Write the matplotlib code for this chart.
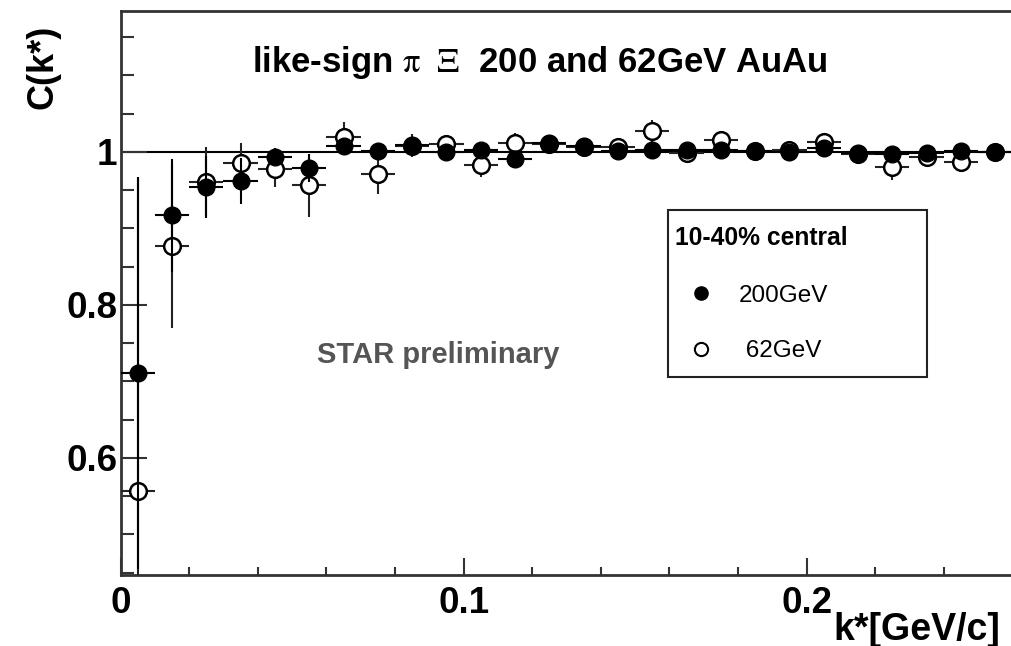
import numpy as np
import matplotlib
matplotlib.use("Agg")
import matplotlib.pyplot as plt
from matplotlib.patches import Rectangle
from matplotlib.lines import Line2D
from matplotlib.ticker import MultipleLocator, FixedLocator, FixedFormatter

plt.rcParams['font.family'] = ['Liberation Sans', 'DejaVu Sans']
plt.rcParams['mathtext.fontset'] = 'stix'

# k* bin centres and half bin width
kstar = np.arange(0.005, 0.26, 0.01)
half_bin = 0.005

# 200 GeV AuAu, 10-40% central
c200 = [0.711, 0.917, 0.954, 0.962, 0.993, 0.979, 1.008, 1.001, 1.009, 1.000,
        1.002, 0.991, 1.012, 1.007, 1.001, 1.002, 1.002, 1.002, 1.001, 1.000,
        1.005, 0.999, 0.997, 0.999, 1.001, 1.000]
e200 = [0.256, 0.074, 0.040, 0.030, 0.012, 0.018, 0.010, 0.008, 0.008, 0.007,
        0.006, 0.006, 0.006, 0.005, 0.005, 0.005, 0.005, 0.004, 0.004, 0.004,
        0.004, 0.004, 0.004, 0.004, 0.004, 0.004]

# 62 GeV AuAu, 10-40% central
c62 = [0.557, 0.877, 0.961, 0.986, 0.978, 0.956, 1.020, 0.971, 1.008, 1.010,
       0.983, 1.012, 1.010, 1.006, 1.006, 1.027, 0.998, 1.015, 1.001, 1.003,
       1.013, 0.997, 0.980, 0.993, 0.987, 1.000]
e62 = [0.410, 0.107, 0.045, 0.025, 0.024, 0.041, 0.019, 0.026, 0.015, 0.012,
       0.016, 0.012, 0.012, 0.010, 0.010, 0.015, 0.010, 0.010, 0.008, 0.008,
       0.010, 0.008, 0.017, 0.010, 0.013, 0.008]

yticks = [0.6, 0.8, 1.0]
yticklabels = ['0.6', '0.8', '1']
xticks = [0.0, 0.1, 0.2]
xticklabels = ['0', '0.1', '0.2']

W, H = 1011, 646
fig = plt.figure(figsize=(W / 100, H / 100), dpi=100)
ax = fig.add_axes([120.6 / W, 1 - 575 / H, 1 - 120.6 / W, (575 - 11) / H])

ax.set_xlim(0, 0.2596)
ax.set_ylim(0.447, 1.184)

ax.axhline(1.0, color='black', lw=1.5, zorder=1)

ax.errorbar(kstar, c62, xerr=half_bin, yerr=e62, fmt='o', ms=12,
            mfc='white', mec='black', mew=1.8, ecolor='#222222',
            elinewidth=1.5, capsize=0, zorder=3)
ax.errorbar(kstar, c200, xerr=half_bin, yerr=e200, fmt='o', ms=12,
            mfc='black', mec='black', ecolor='black',
            elinewidth=1.5, capsize=0, zorder=4)

# frame and ticks
for side in ['left', 'bottom', 'top']:
    ax.spines[side].set_linewidth(2)
    ax.spines[side].set_color('#333333')
ax.spines['right'].set_visible(False)

ax.yaxis.set_major_locator(FixedLocator(yticks))
ax.yaxis.set_major_formatter(FixedFormatter(yticklabels))
ax.yaxis.set_minor_locator(MultipleLocator(0.05))
ax.xaxis.set_major_locator(FixedLocator(xticks))
ax.xaxis.set_major_formatter(FixedFormatter(xticklabels))
ax.xaxis.set_minor_locator(MultipleLocator(0.02))

ax.tick_params(which='both', direction='in', color='#333333', width=1.5)
ax.tick_params(axis='y', which='major', length=18.7, pad=2.5)
ax.tick_params(axis='y', which='minor', length=9.4)
ax.tick_params(axis='x', which='major', length=12.2, pad=8)
ax.tick_params(axis='x', which='minor', length=6.1)
for lab in ax.get_xticklabels() + ax.get_yticklabels():
    lab.set_fontsize(26.5)
    lab.set_fontweight('bold')

# axis titles
fig.text(43 / W, 1 - 67 / H, 'C(k*)', rotation=90, ha='center', va='center',
         fontsize=26, fontweight='bold')
fig.text(1000 / W, 1 - 640 / H, 'k*[GeV/c]', ha='right', va='baseline',
         fontsize=27, fontweight='bold')

# in-pad texts
ax.text(0.1221, 1.1046, r'like-sign $\mathrm{\pi\ \ \Xi}$  200 and 62GeV AuAu',
        ha='center', va='baseline', fontsize=25, fontweight='bold')
ax.text(0.0572, 0.7234, 'STAR preliminary', ha='left', va='baseline',
        fontsize=21, fontweight='bold', color='#555555')

# legend box
fig.add_artist(Rectangle((667.7 / W, 1 - 376.7 / H), (927.3 - 667.7) / W,
                         (376.7 - 210) / H, transform=fig.transFigure,
                         facecolor='white', edgecolor='#222222', lw=1.5,
                         zorder=10))
fig.text(675 / W, 1 - 245 / H, '10-40% central', ha='left', va='baseline',
         fontsize=17.7, fontweight='bold', zorder=11)
fig.add_artist(Line2D([701 / W], [1 - 293.3 / H], transform=fig.transFigure,
                      marker='o', ms=9.5, mfc='black', mec='black', zorder=11))
fig.text(739 / W, 1 - 301.7 / H, '200GeV', ha='left', va='baseline',
         fontsize=17.5, zorder=11)
fig.add_artist(Line2D([701 / W], [1 - 349 / H], transform=fig.transFigure,
                      marker='o', ms=9.5, mfc='white', mec='black', mew=1.5,
                      zorder=11))
fig.text(739 / W, 1 - 356.7 / H, ' 62GeV', ha='left', va='baseline',
         fontsize=17.5, zorder=11)

fig.savefig('out.png', dpi=100)
